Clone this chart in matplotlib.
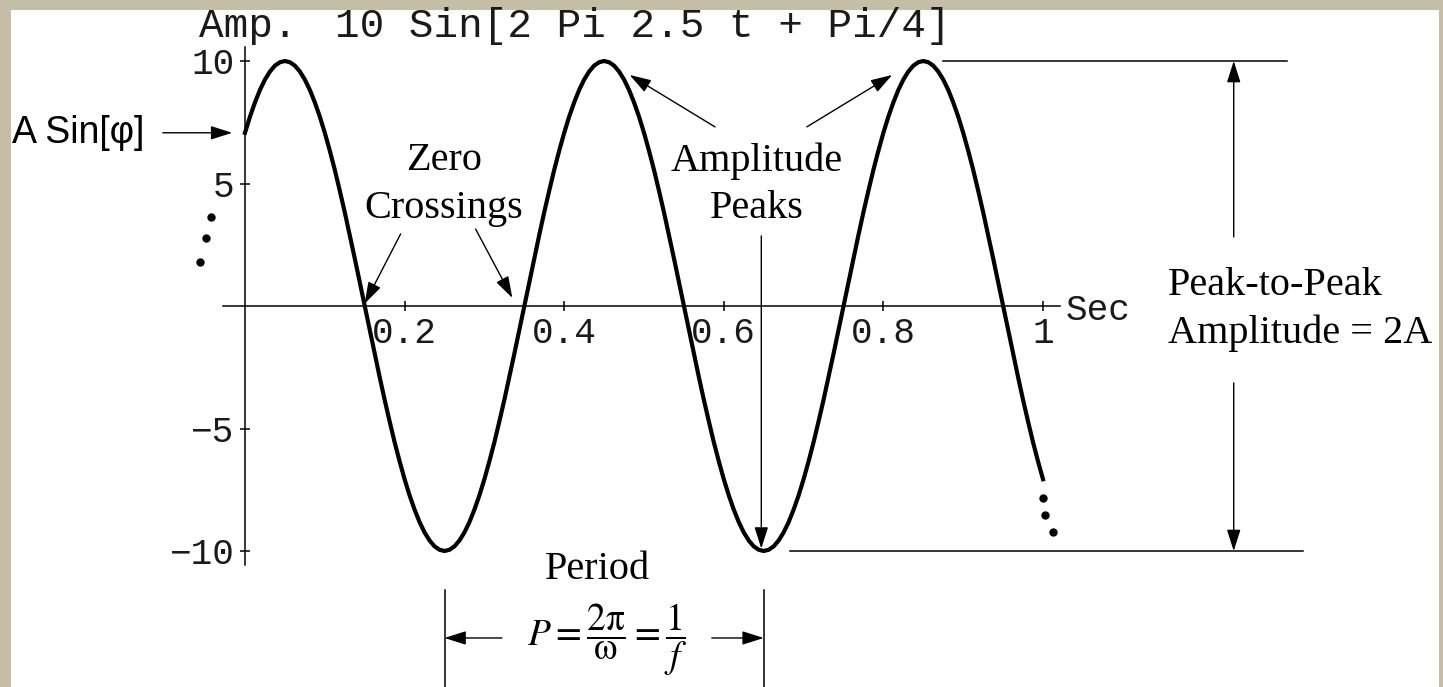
import numpy as np
import matplotlib.pyplot as plt
from matplotlib.patches import Rectangle

# Valores: 10 Sin[2 Pi 2.5 t + Pi/4], de 0 a 1 s (161 amostras)
amp = [7.07, 7.73, 8.31, 8.82, 9.24, 9.57, 9.81, 9.95, 10.00,
       9.95, 9.81, 9.57, 9.24, 8.82, 8.31, 7.73, 7.07, 6.34, 5.56, 4.71, 3.83, 2.90, 1.95, 0.98, 0.00,
       -0.98, -1.95, -2.90, -3.83, -4.71, -5.56, -6.34, -7.07, -7.73, -8.31, -8.82, -9.24, -9.57, -9.81, -9.95, -10.00,
       -9.95, -9.81, -9.57, -9.24, -8.82, -8.31, -7.73, -7.07, -6.34, -5.56, -4.71, -3.83, -2.90, -1.95, -0.98, 0.00,
       0.98, 1.95, 2.90, 3.83, 4.71, 5.56, 6.34, 7.07, 7.73, 8.31, 8.82, 9.24, 9.57, 9.81, 9.95, 10.00,
       9.95, 9.81, 9.57, 9.24, 8.82, 8.31, 7.73, 7.07, 6.34, 5.56, 4.71, 3.83, 2.90, 1.95, 0.98, 0.00,
       -0.98, -1.95, -2.90, -3.83, -4.71, -5.56, -6.34, -7.07, -7.73, -8.31, -8.82, -9.24, -9.57, -9.81, -9.95, -10.00,
       -9.95, -9.81, -9.57, -9.24, -8.82, -8.31, -7.73, -7.07, -6.34, -5.56, -4.71, -3.83, -2.90, -1.95, -0.98, 0.00,
       0.98, 1.95, 2.90, 3.83, 4.71, 5.56, 6.34, 7.07, 7.73, 8.31, 8.82, 9.24, 9.57, 9.81, 9.95, 10.00,
       9.95, 9.81, 9.57, 9.24, 8.82, 8.31, 7.73, 7.07, 6.34, 5.56, 4.71, 3.83, 2.90, 1.95, 0.98, 0.00,
       -0.98, -1.95, -2.90, -3.83, -4.71, -5.56, -6.34, -7.07]
t_sec = np.linspace(0, 1, len(amp))

x_ticks = [0.2, 0.4, 0.6, 0.8, 1.0]
x_tick_labels = ['0.2', '0.4', '0.6', '0.8', '1']
y_ticks = [-10, -5, 5, 10]
y_tick_labels = ['\u221210', '\u22125', '5', '10']

a_sin_phi = 7.07
peak_amp = 10
trough_times = [0.25, 0.65]

# Pontinhos de continuação (t, amp)
dots_left_t = [-0.056, -0.049, -0.043]
dots_left_y = [1.80, 2.78, 3.63]
dots_right_t = [1.000, 1.003, 1.013]
dots_right_y = [-7.84, -8.53, -9.22]

# Escala em pixels da figura original
X0_PX, PX_PER_SEC = 245, 798
Y0_PX, PX_PER_AMP = 306, 24.5
W, H = 1443, 687

MONO = 'Liberation Mono'
SERIF = 'Liberation Serif'
SANS = 'Liberation Sans'
TXT = '#1a1a1a'
plt.rcParams['mathtext.fontset'] = 'stix'

fig = plt.figure(figsize=(W / 100, H / 100), dpi=100)
fig.patch.set_facecolor('#c6bda9')
fig.patches.append(Rectangle((11 / W, 0), 1428 / W, 677 / H, transform=fig.transFigure,
                             facecolor='white', edgecolor='none', zorder=-5))

ax = fig.add_axes([0, 0, 1, 1])
ax.patch.set_visible(False)
ax.set_xlim(-X0_PX / PX_PER_SEC, (W - X0_PX) / PX_PER_SEC)
ax.set_ylim((Y0_PX - H) / PX_PER_AMP, Y0_PX / PX_PER_AMP)

# Eixos estilo Mathematica
for s in ['top', 'right']:
    ax.spines[s].set_visible(False)
ax.spines['left'].set_position(('data', 0))
ax.spines['bottom'].set_position(('data', 0))
ax.spines['left'].set_bounds(-10.57, 10.57)
ax.spines['bottom'].set_bounds(-0.028, 1.021)
for s in ['left', 'bottom']:
    ax.spines[s].set_linewidth(1.1)

ax.set_xticks(x_ticks)
ax.set_xticklabels(x_tick_labels, fontfamily=MONO, fontsize=26, color=TXT)
ax.set_yticks(y_ticks)
ax.set_yticklabels(y_tick_labels, fontfamily=MONO, fontsize=26, color=TXT)
ax.tick_params(direction='inout', length=7, width=1.1)
ax.tick_params(axis='x', pad=4)
ax.tick_params(axis='y', pad=4)

# Curva
ax.plot(t_sec, amp, color='black', lw=3, solid_joinstyle='round', zorder=3)
ax.plot(dots_left_t, dots_left_y, 'o', color='black', ms=5)
ax.plot(dots_right_t, dots_right_y, 'o', color='black', ms=5)

# Títulos em Courier
ax.text(-0.058, 10.98, 'Amp.', family=MONO, fontsize=29.5, va='baseline', ha='left', color=TXT)
ax.text(0.884, 10.98, '10 Sin[2 Pi 2.5 t + Pi/4]', family=MONO, fontsize=29.5,
        va='baseline', ha='right', color=TXT)
ax.text(1.028, -0.2, 'Sec', family=MONO, fontsize=26, va='center', ha='left', color=TXT)

arrow = dict(arrowstyle='-|>,head_length=1.1,head_width=0.35', color='black', lw=1,
             shrinkA=0, shrinkB=0, mutation_scale=12)

# A Sin[phi]
ax.text(-0.292, a_sin_phi, 'A Sin[\u03c6]', family=SANS, fontsize=27, va='center', ha='left')
ax.annotate('', xy=(-0.016, a_sin_phi), xytext=(-0.103, a_sin_phi), arrowprops=arrow)

# Zero crossings
ax.text(0.249, 5.55, 'Zero', family=SERIF, fontsize=29, ha='center', va='baseline')
ax.text(0.249, 3.59, 'Crossings', family=SERIF, fontsize=29, ha='center', va='baseline')
ax.annotate('', xy=(0.150, 0.1), xytext=(0.195, 2.94), arrowprops=arrow)
ax.annotate('', xy=(0.335, 0.33), xytext=(0.289, 3.14), arrowprops=arrow)

# Amplitude peaks
ax.text(0.641, 5.51, 'Amplitude', family=SERIF, fontsize=29, ha='center', va='baseline')
ax.text(0.641, 3.59, 'Peaks', family=SERIF, fontsize=29, ha='center', va='baseline')
ax.annotate('', xy=(0.482, 9.43), xytext=(0.589, 7.31), arrowprops=arrow)
ax.annotate('', xy=(0.811, 9.43), xytext=(0.704, 7.31), arrowprops=arrow)
ax.annotate('', xy=(0.647, -9.9), xytext=(0.647, 2.86), arrowprops=arrow)

# Peak-to-peak
ax.plot([0.875, 1.306], [peak_amp, peak_amp], color='black', lw=1.1)
ax.plot([0.683, 1.326], [-peak_amp, -peak_amp], color='black', lw=1.1)
ax.annotate('', xy=(1.239, peak_amp), xytext=(1.239, 2.82), arrowprops=arrow)
ax.annotate('', xy=(1.239, -peak_amp), xytext=(1.239, -3.14), arrowprops=arrow)
ax.text(1.157, 0.45, 'Peak-to-Peak', family=SERIF, fontsize=29, ha='left', va='baseline')
ax.text(1.157, -1.51, 'Amplitude = 2A', family=SERIF, fontsize=29, ha='left', va='baseline')

# Período
bottom = ax.get_ylim()[0]
for tt in trough_times:
    ax.plot([tt, tt], [-11.59, bottom], color='black', lw=1.1)
ax.annotate('', xy=(trough_times[0], -13.55), xytext=(0.322, -13.55), arrowprops=arrow)
ax.annotate('', xy=(trough_times[1], -13.55), xytext=(0.585, -13.55), arrowprops=arrow)
ax.text(0.442, -11.14, 'Period', family=SERIF, fontsize=29, ha='center', va='baseline')
ax.text(0.454, -13.6, r'$P=\dfrac{2\mathrm{\pi}}{\mathrm{\omega}}=\dfrac{1}{f}$', fontsize=27,
        ha='center', va='center')

fig.savefig('out.png', dpi=100)
plt.close(fig)
